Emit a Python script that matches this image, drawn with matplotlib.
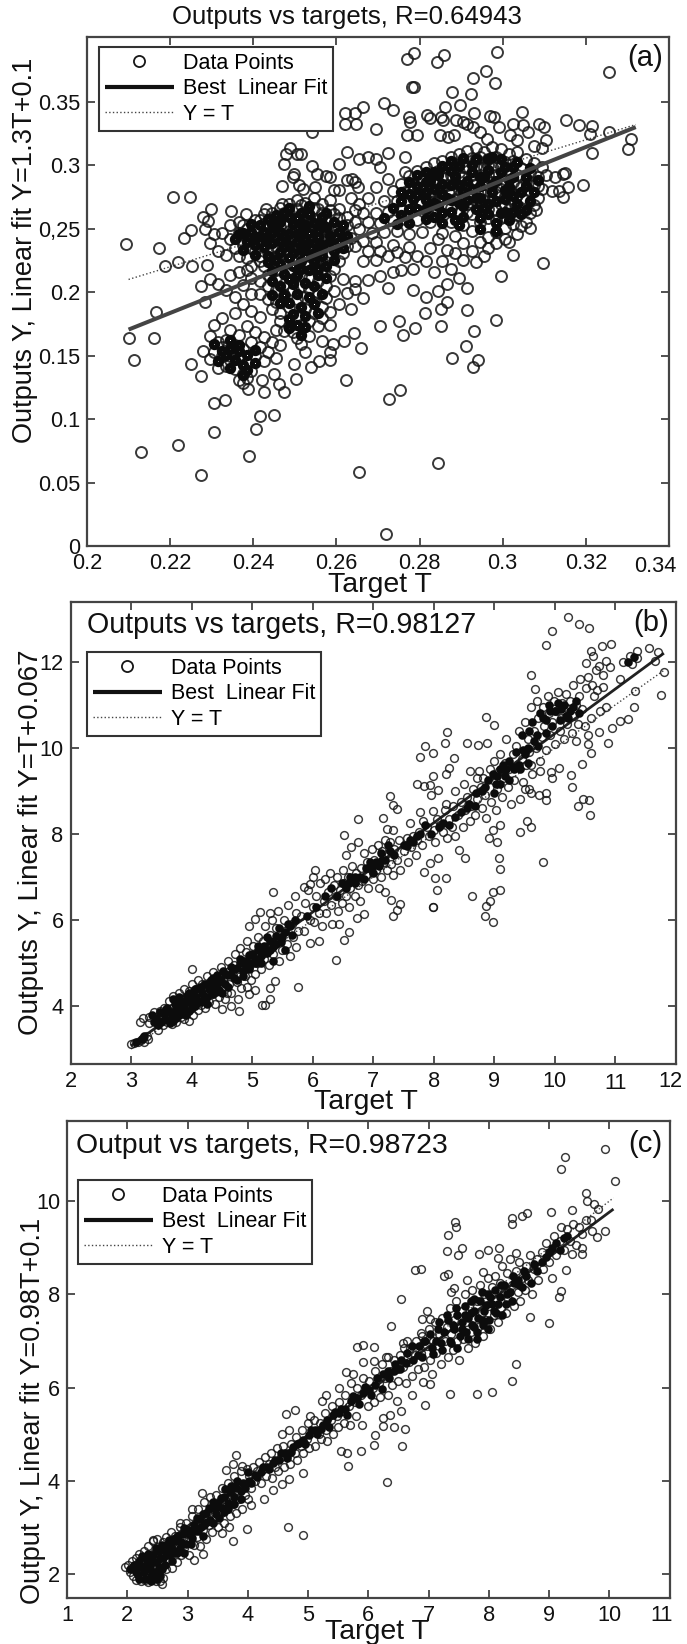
import matplotlib
matplotlib.use("Agg")
import matplotlib.pyplot as plt
from matplotlib.transforms import Affine2D

plt.rcParams['font.family'] = ['Liberation Sans', 'DejaVu Sans']
W, H = 687, 1644

# ---------- panel (a) ----------
a_sparse = [(.2095,.2376),(.2174,.235),(.2187,.2203),(.2219,.2237),(.2252,.2205),(.2206,.275),(.2248,.275),(.2233,.2426),(.2251,.2487),(.2288,.221),
(.2769,.3834),(.2787,.3882),(.2841,.3813),(.2858,.3868),(.2987,.389),(.296,.3745),(.2929,.3684),(.2981,.3645),(.2877,.358),(.2923,.3558),(.2782,.3618),(.2786,.3618),(.3255,.3734),
(.3309,.3208),(.3302,.3129),(.3215,.3097),(.3211,.3242),(.3215,.3308),(.3183,.3313),(.3152,.3355),(.3256,.3258),(.3193,.2847),(.3098,.2232),(.2997,.2124),
(.2665,.3455),(.2714,.3487),(.2735,.3434),(.2694,.3287),(.2644,.3408),(.2621,.3408),(.2648,.3324),(.2621,.3324),(.2542,.3263),(.2775,.3382),(.2778,.3342),(.2769,.3237),(.2794,.3237),
(.2817,.3392),(.2825,.3368),(.2852,.3382),(.2861,.3455),(.2856,.3355),(.2898,.3474),(.2887,.336),(.2905,.3337),(.2931,.3408),(.297,.339),(.298,.338),(.3047,.3416),(.2992,.33),(.3025,.3324),(.305,.3316),(.3087,.3324),(.31,.33),
(.2849,.3237),(.2884,.324),(.2928,.33),(.3018,.3237),(.306,.326),(.3103,.3197),(.2963,.321),(.2915,.3325),(.2945,.3265),(.2868,.3225),(.3035,.3195),(.3075,.3155),(.3095,.3135),
(.2346,.2637),(.2298,.2658),(.2279,.2592),(.2292,.2558),(.2383,.2618),(.2431,.2658),(.2473,.3013),(.2489,.3132),(.2478,.3092),(.2515,.3087),(.2499,.2934),(.2468,.2834),(.251,.2842),(.252,.2816),(.2548,.2829),(.2542,.2995),(.2554,.2934),(.2584,.2908),(.2605,.3013),(.2626,.3105),(.2637,.2895),(.2626,.2882),(.2605,.2803),(.2653,.2829),(.2468,.2697),(.2505,.3085),(.2495,.2905),(.2575,.2915),(.2595,.2805),(.2645,.287),(.2675,.3065),(.2695,.3045),(.2725,.3095),(.2765,.3065),(.2655,.3045),(.2705,.2985),
(.3145,.2934),(.3145,.275),(.3156,.2829),(.3118,.2797),(.3081,.2645),(.3044,.2518),(.3135,.2795),(.315,.2935),(.3105,.292),(.3085,.284),(.3125,.291),
(.21,.1637),(.2112,.1468),(.216,.1637),(.2166,.1842),(.2129,.0737),(.2218,.0797),(.2275,.0563),(.239,.0711),(.2407,.0924),(.2306,.0897),(.2306,.1126),(.2333,.115),(.2415,.1021),(.2449,.1032),(.2251,.1434),(.2275,.1342),(.228,.1539),
(.2654,.0584),(.2844,.0653),(.272,.0097),(.2726,.1158),(.2752,.1229),(.2624,.1308),(.2706,.1734),(.275,.1771),(.276,.1666),(.279,.1721),(.2814,.1839),(.2852,.1871),(.2852,.1734),(.2915,.186),(.2932,.1695),(.2984,.1782),(.2912,.1579),(.2878,.1482),(.2941,.1468),(.2929,.1408),
(.2658,.1558),(.2642,.1676),(.2618,.1618),(.2502,.1316),(.2475,.1211),(.2425,.1211),(.2462,.1276),(.2388,.1237),(.2422,.1311),(.2451,.1355),(.2584,.1466),(.2539,.1413),(.2499,.1434),(.2557,.1461),(.2592,.1592)]
a_upper = [(.2285,.2495),(.2305,.2455),(.2325,.2465),(.2345,.2415),(.2295,.2385),(.2315,.2325),(.2335,.2295),(.2355,.2345),(.2345,.2525),(.2365,.2555),(.2385,.2495),(.2405,.2565),(.2425,.2615),(.2445,.2625),(.2465,.2665),(.2485,.2695),(.2505,.2725),(.2525,.2705),(.2545,.2745),(.2565,.2695),(.2585,.2725),(.2605,.2655),(.2625,.2595),(.2645,.2555),
(.2365,.2465),(.2385,.2425),(.2405,.2485),(.2425,.2535),(.2445,.2555),(.2465,.2585),(.2485,.2625),(.2505,.2655),(.2525,.2635),(.2545,.2665),(.2565,.2625),(.2585,.2645),(.2605,.2585),(.2625,.2525),(.2375,.2375),(.2395,.2345),(.2415,.2415),(.2435,.2465),(.2455,.2495),(.2475,.2525),(.2495,.2575),(.2515,.2585),(.2535,.2595),(.2555,.2565),(.2575,.2575),(.2595,.2525),(.2615,.2475),(.2635,.2425),
(.2365,.2285),(.2385,.2265),(.2405,.2325),(.2425,.2385),(.2445,.2415),(.2465,.2445),(.2485,.2485),(.2505,.2505),(.2525,.2525),(.2545,.2505),(.2565,.2495),(.2585,.2465),(.2605,.2425),(.2625,.2365),(.2395,.2205),(.2415,.2245),(.2435,.2315),(.2455,.2355),(.2475,.2385),(.2495,.2425),(.2515,.2445),(.2535,.2445),(.2555,.2415),(.2575,.2405),(.2595,.2365),(.2615,.2305),
(.2425,.2205),(.2445,.2255),(.2465,.2295),(.2485,.2335),(.2505,.2365),(.2525,.2375),(.2545,.2345),(.2565,.2335),(.2585,.2295),(.2605,.2245),(.2455,.2175),(.2475,.2225),(.2495,.2265),(.2515,.2295),(.2535,.2285),(.2555,.2265),(.2575,.2235),(.2595,.2185),(.2435,.2135),(.2465,.2105),(.2485,.2155),(.2505,.2205),(.2525,.2225),(.2545,.2195),(.2565,.2175),(.2585,.2125),
(.2415,.2565),(.2435,.2515),(.2455,.2445),(.2475,.2625),(.2495,.2495),(.2515,.2685),(.2535,.2525),(.2555,.2655),(.2575,.2485),(.2595,.2615),(.2475,.2325),(.2495,.2345),(.2515,.2375),(.2535,.2365),(.2455,.2275),(.2565,.2415),(.2445,.2355),(.2415,.2285),(.2395,.2445),(.2375,.2525),(.2435,.2405),(.2505,.2435),(.2545,.2425),(.2525,.2475),(.2485,.2415),(.2465,.2515)]
a_lower = [(.2395,.2115),(.2415,.2085),(.2435,.2045),(.2455,.2015),(.2475,.2065),(.2495,.2105),(.2515,.2135),(.2535,.2115),(.2555,.2085),(.2575,.2045),(.2595,.2005),(.2415,.1985),(.2435,.1945),(.2455,.1925),(.2475,.1975),(.2495,.2015),(.2515,.2045),(.2535,.2025),(.2555,.1995),(.2575,.1955),(.2445,.1865),(.2465,.1835),(.2485,.1885),(.2505,.1945),(.2525,.1965),(.2545,.1925),(.2565,.1885),(.2585,.1845),(.2465,.1775),(.2485,.1735),(.2505,.1805),(.2525,.1865),(.2545,.1835),(.2565,.1795),(.2495,.1685),(.2515,.1745),(.2475,.1695),(.2535,.1775),(.2505,.1635),(.2555,.1735),(.2585,.1745),(.2605,.1905),(.2625,.1995),(.2645,.2085),(.2635,.1865),(.2615,.2105),
(.2295,.1655),(.2315,.1605),(.2335,.1625),(.2355,.1575),(.2375,.1555),(.2395,.1605),(.2415,.1565),(.2435,.1525),(.2455,.1485),(.2305,.1525),(.2325,.1495),(.2345,.1465),(.2365,.1505),(.2385,.1445),(.2405,.1495),(.2425,.1455),(.2335,.1415),(.2355,.1395),(.2375,.1355),(.2385,.1325),(.2365,.1305),(.2375,.1285),(.2395,.1375),(.2315,.1405),(.2295,.1475),(.2325,.1565),(.2345,.1705),(.2365,.1665),(.2385,.1735),(.2405,.1685),(.2425,.1645),(.2445,.1605),(.2465,.1585),(.2415,.1805),(.2395,.1855),(.2375,.1905),(.2355,.1965),(.2335,.2015),(.2315,.2065),(.2295,.2105),(.2275,.2045),(.2345,.2135),(.2375,.2055),(.2395,.1985),(.2325,.1795),(.2305,.1745),(.2285,.1925),(.2355,.1835),(.2385,.2175),(.2365,.2155),(.2455,.1705),(.2515,.1595),(.2535,.1655),(.2565,.1615),(.2585,.1525),(.2525,.1525)]
a_right = [(.2695,.2625),(.2715,.2715),(.2735,.2795),(.2755,.2855),(.2775,.2915),(.2795,.2955),(.2815,.2985),(.2835,.3015),(.2855,.3035),(.2875,.3065),(.2895,.3085),(.2915,.3115),(.2935,.3135),(.2955,.3105),(.2975,.3145),(.2995,.3125),(.3015,.3085),(.3035,.3105),(.3055,.3045),(.3075,.3015),(.3095,.2985),
(.2705,.2545),(.2725,.2635),(.2745,.2715),(.2765,.2785),(.2785,.2845),(.2805,.2895),(.2825,.2925),(.2845,.2955),(.2865,.2975),(.2885,.3005),(.2905,.3035),(.2925,.3055),(.2945,.3065),(.2965,.3045),(.2985,.3065),(.3005,.3025),(.3025,.3035),(.3045,.2975),(.3065,.2945),(.3085,.2905),
(.2715,.2475),(.2735,.2565),(.2755,.2645),(.2775,.2715),(.2795,.2785),(.2815,.2825),(.2835,.2865),(.2855,.2905),(.2875,.2925),(.2895,.2945),(.2915,.2975),(.2935,.2995),(.2955,.2985),(.2975,.2985),(.2995,.2995),(.3015,.2955),(.3035,.2925),(.3055,.2875),(.3075,.2845),(.3095,.2815),
(.2745,.2485),(.2765,.2575),(.2785,.2655),(.2805,.2705),(.2825,.2775),(.2845,.2805),(.2865,.2845),(.2885,.2865),(.2905,.2905),(.2925,.2925),(.2945,.2925),(.2965,.2925),(.2985,.2925),(.3005,.2895),(.3025,.2865),(.3045,.2825),(.3065,.2795),(.3085,.2745),
(.2775,.2455),(.2795,.2565),(.2815,.2645),(.2835,.2715),(.2855,.2755),(.2875,.2795),(.2895,.2805),(.2915,.2845),(.2935,.2855),(.2955,.2855),(.2975,.2865),(.2995,.2845),(.3015,.2815),(.3035,.2765),(.3055,.2725),(.3075,.2685),
(.2805,.2475),(.2825,.2555),(.2845,.2635),(.2865,.2695),(.2885,.2735),(.2905,.2755),(.2925,.2785),(.2945,.2785),(.2965,.2795),(.2985,.2785),(.3005,.2755),(.3025,.2715),(.3045,.2665),(.3065,.2625),
(.2855,.2465),(.2875,.2555),(.2895,.2625),(.2915,.2695),(.2935,.2715),(.2955,.2725),(.2975,.2725),(.2995,.2695),(.3015,.2655),(.3035,.2605),(.3055,.2555),(.2885,.2445),(.2905,.2525),(.2925,.2615),(.2945,.2645),(.2965,.2655),(.2985,.2645),(.3005,.2595),(.3025,.2535),(.2925,.2485),(.2945,.2555),(.2965,.2585),(.2985,.2565),(.3005,.2505),(.2965,.2435),(.2985,.2475),(.3005,.2415),
(.2865,.2905),(.2905,.2835),(.2855,.2825),(.2945,.2975),(.2895,.2765),(.2955,.2765),(.3025,.2775),(.2835,.2785),(.2935,.3045),(.2985,.2825),(.2875,.2665),(.2915,.2635),(.2845,.2725),(.2975,.2925),(.2885,.2965),(.2925,.2885),(.2825,.2845),(.3005,.2685),(.2965,.3005),(.2905,.2985)]
a_between = [(.2635,.2745),(.2655,.2695),(.2665,.2625),(.2645,.2645),(.2675,.2555),(.2655,.2495),(.2685,.2465),(.2665,.2405),(.2695,.2395),(.2645,.2365),(.2675,.2325),(.2705,.2325),(.2735,.2375),(.2725,.2285),(.2695,.2255),(.2665,.2245),(.2745,.2315),(.2775,.2355),(.2765,.2275),(.2795,.2285),(.2825,.2345),(.2815,.2245),(.2785,.2185),(.2755,.2175),(.2845,.2415),(.2865,.2335),(.2855,.2245),(.2885,.2305),(.2905,.2385),(.2835,.2155),(.2875,.2185),(.2905,.2255),(.2925,.2325),(.2945,.2395),(.2965,.2345),(.2985,.2385),(.2935,.2235),(.2955,.2285),(.2895,.2115),(.2865,.2065),(.2915,.2035),(.2845,.2005),(.2735,.2155),(.2705,.2125),(.2675,.2095),(.2645,.2025),(.2725,.2035),(.2785,.2015),(.2815,.1965),(.2865,.1925),(.2665,.1955),(.3015,.2395),(.3035,.2455),(.3065,.2505),(.3025,.2295),(.2765,.2945),(.2725,.2895),(.2695,.2825),(.2675,.2745)]
a_t, a_y = zip(*(a_sparse + a_upper + a_lower + a_right + a_between))
a_core = [(.2385,.2395),(.2405,.2375),(.2425,.2355),(.2445,.2385),(.2465,.2405),(.2485,.2375),(.2505,.2395),(.2525,.2415),(.2545,.2385),(.2565,.2375),(.2585,.2405),
(.2365,.2455),(.2395,.2475),(.2415,.2445),(.2445,.2465),(.2465,.2475),(.2485,.2455),(.2515,.2475),(.2535,.2465),(.2555,.2485),(.2585,.2445),(.2605,.2475),
(.2415,.2525),(.2445,.2535),(.2465,.2555),(.2495,.2535),(.2515,.2545),(.2545,.2545),(.2565,.2535),(.2595,.2555),(.2455,.2605),(.2485,.2595),(.2515,.2625),(.2535,.2615),(.2565,.2595),(.2485,.2665),(.2535,.2675),
(.2405,.2295),(.2435,.2285),(.2465,.2315),(.2495,.2305),(.2515,.2335),(.2545,.2305),(.2565,.2285),(.2595,.2325),(.2435,.2235),(.2465,.2225),(.2495,.2205),(.2515,.2245),(.2545,.2245),(.2575,.2205),(.2445,.2165),(.2475,.2145),(.2505,.2135),(.2535,.2175),(.2555,.2135),(.2465,.2045),(.2495,.2065),(.2525,.2075),(.2545,.2045),(.2475,.1975),(.2505,.1985),(.2535,.1965),(.2485,.1915),(.2515,.1885),(.2545,.1905),(.2495,.1825),(.2525,.1815),(.2505,.1745),(.2485,.1785),
(.2345,.1555),(.2365,.1535),(.2385,.1505),(.2355,.1465),(.2375,.1425),(.2335,.1505),(.2375,.1345),(.2385,.1385),
(.2775,.2775),(.2795,.2835),(.2815,.2725),(.2835,.2815),(.2825,.2885),(.2845,.2925),(.2855,.2775),(.2875,.2845),(.2885,.2915),(.2895,.2705),(.2905,.2795),(.2915,.2875),(.2925,.2945),(.2935,.2745),(.2945,.2835),(.2955,.2905),(.2965,.2965),(.2965,.2695),(.2975,.2785),(.2985,.2875),(.2995,.2945),(.3005,.2635),(.3005,.2735),(.3015,.2825),(.3025,.2905),(.3035,.2695),(.3045,.2785),(.2845,.2675),(.2875,.2635),(.2905,.2675),(.2935,.2655),(.2965,.2615),(.2995,.2625),(.3025,.2635),(.2865,.2745),(.2815,.2785),(.2785,.2735),(.2855,.2855),(.2895,.2995),(.2935,.3045),(.2965,.3045),(.2995,.3045),(.3025,.2985),(.3055,.2905),(.2905,.2595),(.2945,.2585),(.2985,.2545),(.2755,.2715),(.2795,.2655),(.2835,.2595)]
a_core2 = [(.2355,.2415),(.2375,.2465),(.2395,.2535),(.2375,.2335),(.2405,.2435),(.2425,.2475),(.2435,.2575),(.2455,.2535),(.2475,.2445),(.2475,.2625),(.2505,.2455),(.2505,.2585),(.2525,.2525),(.2555,.2435),(.2575,.2515),(.2575,.2625),(.2605,.2395),(.2615,.2525),(.2625,.2445),(.2615,.2345),(.2595,.2255),(.2455,.2255),(.2485,.2265),(.2525,.2285),(.2555,.2345),(.2425,.2425),(.2475,.2355),(.2525,.2355),(.2555,.2185),(.2575,.2115),(.2515,.2185),(.2485,.2105),(.2445,.2085),(.2465,.1915),(.2565,.1985),(.2555,.1835),(.2445,.1975),(.2525,.1725),(.2485,.1715),(.2515,.1665),
(.2305,.1595),(.2325,.1535),(.2345,.1625),(.2365,.1585),(.2405,.1545),(.2315,.1455),(.2345,.1405),(.2405,.1445),
(.2715,.2585),(.2735,.2665),(.2755,.2785),(.2755,.2605),(.2775,.2655),(.2775,.2865),(.2795,.2765),(.2795,.2925),(.2815,.2655),(.2815,.2865),(.2835,.2945),(.2835,.2705),(.2855,.2625),(.2855,.2995),(.2875,.2725),(.2875,.2955),(.2885,.2565),(.2895,.2845),(.2905,.3055),(.2915,.2725),(.2925,.2815),(.2925,.3005),(.2945,.2745),(.2945,.2905),(.2955,.2665),(.2975,.2845),(.2975,.3065),(.2985,.2715),(.3005,.2805),(.3005,.2985),(.3015,.2885),(.3025,.2755),(.3035,.3025),(.3045,.2615),(.3055,.2835),(.3065,.2715),(.3065,.2975),(.3075,.2785),(.3085,.2885),(.3055,.2645),(.3015,.2565),(.2985,.2485),(.2945,.2495),(.2895,.2525),(.2855,.2545),(.2815,.2575),(.2775,.2545),(.2745,.2535),(.2875,.3035),(.2815,.2945)]

# ---------- panel (b) ----------
b_sparse = [(10.22,13.03),(10.39,12.89),(9.96,12.71),(9.85,12.39),(10.57,12.78),(10.92,12.41),(10.78,12.37),(10.6,12.26),(10.63,12.14),(10.51,11.98),(10.73,11.9),(10.68,11.82),(10.84,12.02),(10.91,11.88),(10.8,11.69),(9.6,11.7),(9.67,11.37),(11.08,11.61),(11.8,11.77),(11.75,11.22),(11.55,12.33),(11.71,12.22),(11.36,12.26),(11.13,12.0),(11.24,12.13),(11.35,12.08),(11.27,11.95),(11.66,12.02),(11.33,11.32),(11.31,10.94),(11.21,10.67),(11.08,10.63),(10.95,10.47),(10.87,10.12),(10.73,10.37),(10.55,10.29),(10.45,9.62),(10.6,9.88),(10.29,9.09),(10.38,8.65),(10.47,8.8),(10.57,8.78),(10.58,8.45),(10.26,9.36),(10.07,9.52),(9.93,9.44),(9.96,9.31),
(8.86,10.72),(9.0,10.54),(8.22,10.37),(8.18,10.12),(7.86,10.04),(7.98,9.87),(7.77,9.79),(8.34,9.77),(8.55,10.12),(8.73,10.06),(8.25,9.53),(7.98,9.35),(8.2,9.4),(7.72,9.15),(7.93,9.13),(7.83,9.11),(8.07,9.02),(7.95,8.91),(7.27,8.88),(7.32,8.67),(7.4,8.58),(7.16,8.38),(6.74,8.35),(7.77,8.51),(7.98,8.53),(7.22,8.12),(7.33,8.08),(6.52,7.97),(6.74,7.81),(6.63,7.7),(6.55,7.5),
(9.8,7.35),(9.42,8.05),(9.54,8.29),(9.6,8.16),(9.09,8.2),(8.98,8.08),(8.91,7.91),(9.05,7.81),(9.07,7.43),(9.1,7.19),(8.86,8.36),(8.42,7.62),(8.51,7.44),(8.07,7.44),(7.93,7.33),(8.02,6.98),(8.2,6.97),(8.06,6.69),(7.83,7.12),(8.63,6.55),(9.1,6.7),(8.98,6.65),(8.93,6.44),(8.86,6.33),(8.84,6.09),(8.98,5.95),(7.98,6.29),(7.98,6.31),(7.44,6.38),(7.29,6.46),(7.4,6.24),(7.33,6.09),(7.09,6.73),(7.2,6.65),(6.84,6.13),(6.73,6.05),(6.6,5.72),(6.52,5.53),(6.44,5.91),(6.39,5.06),(6.11,5.51),(5.96,5.46),(5.72,5.37),(5.75,4.43),(5.38,4.58),(5.29,4.42),(5.05,4.38),(4.95,4.27),(5.29,4.16),(5.16,4.03),(5.22,4.03),(4.91,4.44),(4.79,3.88),(4.65,3.99),(4.51,3.94),(4.76,4.15),(4.58,4.29),
(5.35,6.65),(6.04,7.17),(6.01,7.0),(5.96,6.84),(5.85,6.77),(5.13,6.19),(5.29,6.16),(5.04,6.03),(4.95,5.85),(4.0,4.85),(9.85,8.79),(9.74,8.9),(9.6,8.95),(9.85,8.95),(9.5,9.05),(9.57,9.05),(9.75,9.45),(9.6,9.6),(8.35,9.0),(8.2,8.7),(8.5,9.15),(8.6,9.45),(8.72,9.3)]
b_dense1 = [(3.0,3.12),(3.05,3.14),(3.12,3.16),(3.17,3.2),(3.2,3.26),(3.22,3.17),(3.26,3.3),(3.28,3.24),(3.15,3.63),(3.2,3.72),(3.3,3.75),(3.3,3.6),(3.38,3.85),(3.42,3.62),(3.45,3.45),(3.42,3.75),(3.48,3.88),(3.5,3.7),(3.52,3.55),(3.55,3.95),(3.58,3.78),(3.6,3.62),(3.62,3.88),(3.62,4.12),(3.65,3.7),(3.68,3.58),(3.68,3.95),(3.7,4.22),(3.72,3.8),(3.75,3.62),(3.75,4.08),(3.78,3.9),(3.8,4.3),(3.82,3.75),(3.82,4.15),(3.85,3.98),(3.88,3.7),(3.88,4.4),(3.9,3.85),(3.9,4.2),(3.92,4.05),(3.95,3.65),(3.95,4.35),(3.98,3.92),(4.0,4.5),(4.0,4.18),(4.02,3.78),(4.05,4.05),(4.08,4.4),(4.1,3.9),(4.1,4.6),(4.12,4.25),(4.15,4.02),(4.18,4.5),(4.2,4.15),(4.22,3.95),(4.25,4.38),(4.25,4.7),(4.28,4.1),(4.3,4.55),(4.33,4.28),(4.35,4.8),(4.38,4.05),(4.4,4.45),(4.42,4.65),(4.45,4.2),(4.48,4.9),(4.5,4.4),(4.52,4.6),(4.55,4.15),(4.58,4.8),(4.6,5.05),(4.62,4.5),(4.65,4.3),(4.68,4.72),(4.7,4.95),(4.72,5.2),(4.75,4.55),(4.78,4.85),(4.8,5.35),(4.82,4.42),(4.85,5.05),(4.88,4.7),(4.9,5.25),(4.92,5.5),(4.95,4.9),(4.98,4.6),(5.0,5.15),(5.02,5.4),(5.05,4.75),(5.08,5.0),(5.1,5.6),(5.12,5.25),(5.15,4.85),(5.18,5.5),(5.2,5.1),(5.22,5.85),(5.25,5.3),(5.28,4.95),(5.3,5.65),(5.32,6.0),(5.35,5.2),(5.38,5.45),(5.4,5.8),(5.42,6.2),(5.45,5.05),(5.48,5.6),(5.5,5.3),(5.52,6.0),(5.55,5.75),(5.58,5.45),(5.6,6.35),(5.62,5.15),(5.65,5.9),(5.68,5.6),(5.7,6.55),(5.72,6.15),(5.75,5.75)]
b_mid = [(5.8,6.1),(5.85,5.75),(5.88,6.4),(5.92,6.7),(5.95,6.0),(6.0,6.3),(6.02,5.95),(6.05,6.55),(6.1,6.15),(6.12,6.85),(6.15,5.85),(6.18,6.45),(6.2,6.95),(6.22,6.15),(6.25,6.65),(6.28,7.1),(6.3,6.35),(6.32,5.9),(6.35,6.8),(6.38,6.55),(6.4,7.0),(6.42,6.2),(6.45,6.7),(6.48,6.4),(6.5,7.15),(6.52,6.85),(6.55,6.55),(6.58,7.0),(6.6,6.3),(6.62,6.75),(6.65,7.25),(6.68,6.95),(6.7,6.55),(6.72,7.1),(6.75,6.8),(6.78,6.45),(6.8,7.2),(6.82,6.9),(6.85,7.55),(6.88,7.05),(6.9,7.35),(6.92,6.75),(6.95,7.2),(6.98,7.65),(7.0,6.95),(7.02,7.4),(7.05,7.15),(7.08,7.75),(7.1,7.3),(7.12,7.0),(7.15,7.6),(7.18,7.35),(7.2,7.85),(7.22,7.15),(7.25,7.55),(7.28,7.8),(7.3,7.3),(7.32,7.05),(7.35,7.65),(7.4,7.4),(7.42,7.85),(7.45,7.15),(7.5,7.6),(7.55,7.9),(7.58,7.35),(7.6,8.25),(7.62,7.7),(7.65,7.95),(7.7,7.5),(7.72,7.85),(7.75,8.05),(7.8,7.75),(7.82,8.3),(7.88,8.15),(7.92,7.95),(8.0,8.1),(8.02,7.8),(8.05,8.35),(8.1,8.2),(8.15,8.05),(8.18,8.55),(8.22,7.9),(8.25,8.35),(8.3,8.15),(8.32,8.65),(8.35,7.95),(8.4,8.45),(8.45,8.75),(8.48,8.15),(8.52,8.55),(8.55,8.85),(8.6,8.3),(8.62,8.65),(8.65,9.05),(8.68,8.45),(8.72,8.8),(8.75,9.45),(8.78,9.1),(8.8,8.6),(8.82,9.3),(8.85,8.9),(8.88,10.12),(8.92,9.5),(8.95,8.75),(8.98,9.25),(9.0,9.7),(9.02,8.55),(9.05,9.05),(9.08,9.45),(9.1,9.85),(9.12,8.85),(9.15,9.3),(9.18,9.65),(9.2,10.2),(9.22,9.1),(9.25,9.5),(9.28,8.7),(9.3,9.85),(9.32,9.25),(9.35,10.05),(9.38,9.55),(9.4,10.4),(9.42,8.8),(9.45,9.75),(9.48,9.2),(9.5,10.6),(9.52,9.6),(9.55,10.2),(9.58,9.9),(9.6,10.95),(9.62,9.4),(9.65,10.4),(9.68,10.0),(9.7,11.1),(9.72,10.7),(9.75,9.7),(9.78,10.25),(9.8,10.95),(9.82,10.5),(9.85,9.95),(9.88,11.2),(9.9,10.8),(9.92,10.3),(9.95,10.6),(9.98,11.1),(10.0,10.1),(10.02,10.85),(10.05,11.3),(10.08,10.4),(10.1,10.7),(10.12,11.05),(10.15,10.2),(10.18,11.25),(10.2,10.55),(10.22,10.9),(10.25,11.1),(10.28,10.35),(10.3,11.45),(10.32,10.75),(10.35,11.0),(10.38,10.55),(10.4,11.2),(10.42,11.6),(10.45,10.9),(10.5,10.5),(10.52,11.4),(10.55,11.65),(10.6,10.7),(10.62,11.45),(10.65,11.2),(10.7,11.35),(10.75,10.85),(10.8,11.42),(10.85,10.95),(10.55,10.1),(10.35,10.15)]
b_t, b_y = zip(*(b_sparse + b_dense1 + b_mid))
b_core = [(3.42,3.72),(3.5,3.62),(3.55,3.82),(3.6,3.95),(3.62,3.68),(3.68,3.82),(3.72,4.05),(3.75,3.72),(3.78,3.92),(3.82,4.12),(3.85,3.82),(3.88,4.02),(3.92,4.22),(3.95,3.88),(3.98,4.08),(4.02,4.32),(4.05,4.0),(4.08,4.2),(4.12,4.42),(4.15,4.1),(4.18,4.3),(4.22,4.52),(4.25,4.2),(4.28,4.4),(4.32,4.6),(4.35,4.28),(4.38,4.48),(4.42,4.72),(4.45,4.38),(4.48,4.6),(4.52,4.82),(4.55,4.5),(4.6,4.72),(4.65,4.9),(4.7,4.65),(4.75,4.88),(4.8,5.0),(4.85,4.82),(4.9,5.05),(4.95,5.18),(5.0,5.0),(5.05,5.1),(5.1,5.3),(5.15,5.15),(5.2,5.4),(5.25,5.22),(5.3,5.5),(5.35,5.38),(5.4,5.62),(5.48,5.48),(5.55,5.72),(5.62,5.85),
(3.08,3.15),(3.18,3.22),(3.22,3.3),
(6.55,6.75),(6.62,7.0),(6.7,6.85),(6.78,7.0),(6.88,7.2),(6.98,7.2),(7.05,7.35),(7.12,7.55),(7.2,7.4),(7.28,7.6),(7.55,7.72),(7.65,7.8),(7.78,8.0),(7.85,8.2),(8.08,8.15),(8.25,8.2),(8.45,8.5),(8.58,8.7),(8.7,8.95),(8.85,9.1),(8.98,9.4),(9.02,9.15),(9.1,9.5),(9.18,9.35),(9.25,9.7),(9.32,9.5),(9.4,9.6),(9.45,10.3),(9.5,9.85),(9.58,10.4),(9.65,10.15),(9.75,10.8),(9.85,10.65),(9.9,11.0),(10.0,10.85),(10.08,10.65),(10.15,11.0),(10.22,10.7),(10.3,10.95),(11.2,12.0),(11.3,12.1)]
b_core2 = [(3.38,3.62),(3.35,3.78),(3.45,3.55),(3.48,3.85),(3.55,3.68),(3.58,3.92),(3.65,3.6),(3.65,3.85),(3.7,3.65),(3.7,4.15),(3.75,3.95),(3.8,3.78),(3.8,4.2),(3.85,3.95),(3.9,3.78),(3.9,4.12),(3.95,4.3),(4.0,3.95),(4.0,4.15),(4.05,4.4),(4.1,4.08),(4.15,4.45),(4.2,4.22),(4.25,4.05),(4.3,4.45),(4.35,4.65),(4.4,4.32),(4.45,4.55),(4.5,4.3),(4.55,4.75),(4.6,4.45),(4.65,4.75),(4.7,4.85),(4.75,4.6),(4.8,5.1),(4.85,4.7),(4.9,4.92),(4.95,4.85),(5.0,5.2),(5.05,5.0),(5.1,5.4),(5.15,5.0),(5.2,5.22),(5.25,5.6),(5.3,5.3),(5.35,5.05),(5.4,5.45),(5.45,5.8),(5.5,5.6),(5.55,5.3),(5.6,5.9),(5.65,5.65),(5.7,6.0),
(5.9,6.1),(6.05,6.3),(6.2,6.55),(6.3,6.75),(6.4,6.55),(6.48,6.85),(6.6,6.85),(6.7,7.0),(6.85,6.95),(6.95,7.35),(7.0,7.1),(7.1,7.25),(7.15,7.4),(7.25,7.75),(7.35,7.5),(7.5,7.75),(7.6,7.85),(7.72,7.95),(7.95,8.0),(8.15,8.25),(8.35,8.4),(8.55,8.6),(8.68,8.65),(8.8,9.0),(8.9,9.25),(9.0,8.95),(9.05,9.35),(9.1,9.15),(9.15,9.6),(9.2,9.5),(9.25,9.25),(9.3,9.55),(9.35,9.9),(9.42,9.5),(9.48,9.95),(9.55,10.0),(9.55,9.65),(9.62,10.6),(9.7,10.3),(9.72,10.05),(9.8,10.7),(9.85,10.35),(9.92,10.85),(9.95,10.5),(10.05,11.05),(10.1,10.9),(10.18,10.75),(10.25,10.85),(10.35,11.1),(10.4,10.8)]
b_fit_t, b_fit_y = [3, 11.8], [3.07, 12.2]
b_yt_t, b_yt_y = [3, 11.8], [3, 11.8]
b_xticks = list(range(2, 13))
b_yticks = [4, 6, 8, 10, 12]

# ---------- panel (c) ----------
c_sparse = [(9.93,11.12),(9.26,10.95),(9.2,10.7),(10.09,10.43),(9.62,10.18),(9.63,10),(9.75,9.93),(9.82,9.83),(9.04,9.77),(9.38,9.8),(8.64,9.74),(8.55,9.68),(8.38,9.63),(8.38,9.5),(7.44,9.56),(7.46,9.45),(7.33,9.28),(7.55,9),(7.3,8.94),(7.49,8.84),(7.84,8.86),(7.98,8.95),(8.17,8.99),(8.15,8.79),(8.46,8.88),(7.32,8.44),(7.25,8.39),(6.78,8.53),(6.87,8.55),(7.9,8.47),(7.64,8.3),(7.42,8.13),(7.38,8.05),(6.54,7.89),(6.37,7.32),(6.98,7.65),(6.9,7.47),(7.02,7.48),(6.87,7.17),(6.65,7.01),(6.58,6.95),(5.92,6.92),(5.81,6.86),(6.1,6.87),(5.92,6.55),(6.1,6.56),(6.32,6.66),(5.63,6.33),(5.74,6.29),(5.52,6),(5.3,5.84),(5.23,5.71),(4.79,5.51),(4.64,5.43),(5.04,5.38),(4.57,5),(4.68,5.08),(3.81,4.55),(3.75,4.36),(3.91,4.31),(3.64,4.24),(3.24,3.74),(3.07,3.39),(2.87,3.1),(2.43,2.73),
(6.31,3.97),(6.56,4.74),(6.1,4.77),(6.12,4.99),(5.88,4.64),(5.66,4.31),(5.55,4.63),(5.64,4.59),(4.91,4.16),(4.66,3),(4.91,2.83),(3.98,2.97),(3.76,2.7),(3.57,2.88),(3.69,3),(3.25,2.42),(3.11,2.29),(4.42,3.8),(4.57,3.93),(4.68,4.03),(4.27,3.61),(4.06,3.47),(6.61,5.12),(6.42,5.16),(6.25,5.17),(6.36,5.41),(6.54,5.49),(6.47,5.71),(6.25,5.34),(6.95,5.62),(6.72,5.85),(7.02,6.07),(6.91,6.11),(7.35,5.87),(7.81,5.87),(8.06,5.9),(8.38,6.15),(8.46,6.51),(9.0,7.39),(8.68,7.52),(9.16,7.94),(9.2,8.08),(9.72,9.35),(9.93,9.35),(9.8,9.24),(9.55,8.86),(9.54,9),(9.39,8.86),(9.28,8.53)]
c_dense1 = [(1.97,2.14),(2.02,2.2),(2.05,2.05),(2.08,2.28),(2.1,1.95),(2.12,2.15),(2.15,2.35),(2.15,1.88),(2.18,2.05),(2.2,2.42),(2.22,1.85),(2.25,2.2),(2.25,1.98),(2.28,2.5),(2.3,1.88),(2.3,2.1),(2.32,2.35),(2.35,1.82),(2.35,2.6),(2.38,2.0),(2.4,2.25),(2.42,1.9),(2.42,2.7),(2.45,2.1),(2.45,2.45),(2.48,1.85),(2.5,2.3),(2.5,2.75),(2.52,2.0),(2.55,1.85),(2.55,2.55),(2.57,1.78),(2.58,2.2),(2.6,1.92),(2.6,2.68),(2.62,2.4),(2.65,2.1),(2.65,2.8),(2.68,2.55),(2.7,2.3),(2.72,2.9),(2.75,2.12),(2.75,2.65),(2.78,2.45),(2.8,2.82),(2.82,2.25),(2.85,2.6),(2.88,3.0),(2.9,2.4),(2.92,2.78),(2.95,2.55),(2.98,3.1),(3.0,2.7),(3.02,2.4),(3.05,2.9),(3.08,3.25),(3.1,2.62),(3.12,3.05),(3.15,2.8),(3.18,3.4),(3.2,2.6),(3.22,3.15),(3.25,2.95),(3.28,3.55),(3.3,2.75),(3.32,3.3),(3.35,3.05),(3.38,3.65),(3.4,2.9),(3.42,3.4),(3.45,3.2),(3.48,3.7),(3.5,3.0),(3.52,3.5),(3.55,3.3),(3.58,3.85),(3.6,3.1),(3.62,3.6),(3.65,3.4),(3.68,3.95),(3.7,3.25),(3.72,3.7),(3.75,3.5),(3.78,4.1),(3.8,3.3),(3.82,3.8),(3.85,3.6),(3.88,4.2),(3.9,3.4),(3.92,3.9),(3.95,3.7),(3.98,4.25),(4.0,3.6)]
c_mid = [(4.02,4.1),(4.05,3.85),(4.08,4.3),(4.12,4.0),(4.15,4.2),(4.18,4.4),(4.22,3.95),(4.25,4.25),(4.28,4.5),(4.3,4.1),(4.35,4.35),(4.38,4.6),(4.4,4.05),(4.45,4.3),(4.48,4.7),(4.5,4.2),(4.55,4.5),(4.58,4.75),(4.6,4.3),(4.65,4.55),(4.7,4.35),(4.72,4.8),(4.78,4.6),(4.8,4.95),(4.82,4.45),(4.88,4.75),(4.9,5.1),(4.92,4.6),(4.98,4.9),(5.0,5.25),(5.02,4.7),(5.08,5.05),(5.1,5.3),(5.12,4.75),(5.18,5.0),(5.2,5.25),(5.22,4.9),(5.28,5.45),(5.3,5.1),(5.32,4.85),(5.38,5.3),(5.4,5.6),(5.42,5.0),(5.48,5.4),(5.5,5.15),(5.52,5.7),(5.58,5.5),(5.6,5.25),(5.62,5.85),(5.68,5.6),(5.7,5.2),(5.72,6.1),(5.78,5.7),(5.8,5.4),(5.82,6.0),(5.88,5.85),(5.9,5.2),(5.92,6.2),(5.98,5.95),(6.0,5.6),(6.02,6.15),(6.08,6.0),(6.1,5.7),(6.12,6.35),(6.18,6.1),(6.2,5.8),(6.22,6.5),(6.28,6.2),(6.3,6.65),(6.32,5.85),(6.38,6.35),(6.4,6.05),(6.42,6.6),(6.48,6.4),(6.5,6.15),(6.52,6.7),(6.58,6.45),(6.6,6.85),(6.62,6.1),(6.68,6.55),(6.7,6.85),(6.72,6.25),(6.78,6.7),(6.8,7.0),(6.82,6.4),(6.88,6.75),(6.9,7.1),(6.92,6.45),(6.98,6.9),(7.0,7.25),(7.02,6.6),(7.05,6.3),(7.08,7.0),(7.1,7.4),(7.12,6.75),(7.18,7.15),(7.2,6.5),(7.22,7.5),(7.28,7.0),(7.3,7.3),(7.32,6.65),(7.35,7.7),(7.38,7.15),(7.4,6.8),(7.42,7.45),(7.45,7.85),(7.48,7.0),(7.5,6.6),(7.52,7.3),(7.55,7.65),(7.58,7.05),(7.6,8.0),(7.62,7.4),(7.65,6.85),(7.68,7.75),(7.7,7.2),(7.72,8.1),(7.75,7.5),(7.78,6.95),(7.8,7.85),(7.82,7.3),(7.85,8.2),(7.88,7.6),(7.9,7.1),(7.92,8.0),(7.95,7.45),(7.98,8.35),(8.0,7.75),(8.02,7.25),(8.05,8.15),(8.08,7.55),(8.1,8.4),(8.12,7.9),(8.15,7.4),(8.18,8.25),(8.2,7.7),(8.22,8.6),(8.25,8.05),(8.28,7.6),(8.3,8.45),(8.32,7.9),(8.35,8.75),(8.38,8.2),(8.42,7.75),(8.45,8.5),(8.48,8.05),(8.5,8.7),(8.52,7.85),(8.55,8.35),(8.6,8.1),(8.62,8.6),(8.65,8.3),(8.68,8.85),(8.72,8.0),(8.75,8.55),(8.8,8.75),(8.82,8.3),(8.88,8.9),(8.9,8.55),(8.95,9.1),(9.0,8.7),(9.05,8.35),(9.08,9.25),(9.12,8.85),(9.18,9.15),(9.2,9.45),(9.25,8.95),(9.3,9.4),(9.35,9.15),(9.4,9.5),(9.45,9.05),(9.5,9.45),(9.55,9.3),(9.62,9.6),(9.7,9.6)]
c_t, c_y = zip(*(c_sparse + c_dense1 + c_mid))
c_core = [(2.1,2.15),(2.18,1.98),(2.2,2.28),(2.28,2.05),(2.3,1.9),(2.32,2.3),(2.38,2.15),(2.4,1.95),(2.42,2.4),(2.48,2.05),(2.5,1.9),(2.5,2.25),(2.52,2.5),(2.58,2.1),(2.6,2.35),(2.62,2.6),(2.68,2.4),(2.72,2.6),(2.75,2.28),(2.8,2.5),(2.82,2.7),(2.88,2.55),(2.92,2.85),(2.98,2.65),(3.0,2.95),(3.08,2.78),(3.1,3.05),(3.18,2.92),(3.2,3.18),(3.28,3.05),(3.3,3.3),(3.38,3.15),(3.4,3.42),(3.48,3.28),(3.5,3.52),(3.58,3.42),(3.6,3.65),(3.68,3.52),(3.7,3.75),(3.78,3.65),(3.8,3.85),(3.88,3.78),(3.92,3.95),
(4.02,4.0),(4.12,4.12),(4.22,4.18),(4.32,4.3),(4.42,4.38),(4.52,4.45),(4.62,4.6),(4.72,4.62),(4.82,4.78),(4.92,4.88),(5.02,4.98),(5.12,5.08),(5.22,5.12),(5.32,5.3),(5.42,5.42),(5.52,5.45),(5.62,5.55),(5.72,5.72),(5.82,5.78),(5.92,5.88),(6.02,5.95),(6.12,6.05),(6.25,6.3),(6.35,6.2),(6.45,6.5),(6.55,6.6),(6.65,6.75),(6.75,6.6),(6.85,6.9),(6.95,7.0),(7.05,6.85),(7.15,7.25),(7.2,6.95),
(7.25,7.2),(7.32,7.45),(7.38,6.95),(7.42,7.25),(7.48,7.55),(7.52,7.1),(7.55,7.4),(7.6,7.75),(7.62,7.2),(7.65,7.5),(7.7,7.85),(7.72,7.35),(7.75,7.65),(7.8,7.2),(7.82,7.5),(7.85,7.85),(7.9,7.35),(7.92,7.65),(7.98,8.0),(8.0,7.45),(8.05,7.8),(8.1,8.1),(8.12,7.6),(8.18,7.95),(8.25,8.2),(8.28,7.8),(8.35,8.05),(8.42,8.25),(8.5,8.2),(8.62,8.4),(8.75,8.65),(8.88,8.7),(9.0,8.9),(9.12,9.1),(9.25,9.2)]
c_core2 = [(2.05,2.1),(2.12,2.2),(2.15,2.05),(2.2,1.9),(2.22,2.15),(2.25,2.38),(2.3,2.18),(2.35,2.1),(2.35,2.42),(2.4,1.85),(2.42,2.25),(2.45,2.05),(2.48,2.55),(2.52,2.15),(2.55,1.95),(2.55,2.35),(2.58,2.62),(2.62,2.2),(2.65,2.48),(2.7,2.72),(2.75,2.45),(2.78,2.75),(2.82,2.45),(2.85,2.82),(2.9,2.68),(2.95,2.45),(2.95,2.98),(3.02,2.85),(3.05,2.65),(3.12,2.92),(3.15,3.2),(3.22,3.0),(3.25,2.82),(3.25,3.28),(3.32,3.12),(3.35,3.42),(3.42,3.1),(3.42,3.55),(3.48,3.42),(3.52,3.2),(3.55,3.62),(3.6,3.32),(3.62,3.82),(3.68,3.4),(3.72,3.88),(3.78,3.5),(3.82,4.0),(3.88,3.6),(3.95,3.85),(4.0,4.18),(4.05,3.95),
(4.15,4.08),(4.25,4.3),(4.35,4.25),(4.45,4.45),(4.55,4.6),(4.65,4.48),(4.75,4.72),(4.85,4.82),(4.95,4.78),(5.05,5.08),(5.15,5.0),(5.25,5.2),(5.35,5.15),(5.45,5.48),(5.55,5.55),(5.65,5.42),(5.75,5.82),(5.85,5.65),(5.95,6.02),(6.05,5.85),(6.15,6.2),(6.22,5.98),(6.32,6.35),(6.42,6.35),(6.52,6.4),(6.62,6.52),(6.72,6.9),(6.82,6.7),(6.9,6.65),(6.92,7.0),(7.02,7.15),(7.08,6.72),(7.12,7.0),(7.18,7.4),(7.22,6.8),(7.3,7.55),(7.35,7.0),(7.4,7.35),(7.45,7.7),(7.48,6.85),(7.55,7.25),(7.6,7.55),(7.65,7.05),(7.7,7.6),(7.75,7.9),(7.75,7.3),(7.8,7.05),(7.88,7.45),(7.88,8.05),(7.95,7.78),(7.98,7.25),(8.02,7.95),(8.08,7.65),(8.15,7.8),(8.2,8.2),(8.22,7.55),(8.3,8.0),(8.38,7.85),(8.4,8.4),(8.48,8.3),(8.55,8.15),(8.58,8.5),(8.7,8.25),(8.8,8.5),(8.95,8.8),(9.05,9.0),(9.18,8.95),(9.3,9.25)]
c_fit_t, c_fit_y = [2, 10.07], [2.06, 9.83]
c_yt_t, c_yt_y = [2, 10.07], [2, 10.07]
c_xticks = list(range(1, 12))
c_yticks = [2, 4, 6, 8, 10]

a_fit_t, a_fit_y = [.21, .332], [.1705, .33]
a_yt_t, a_yt_y = [.21, .332], [.21, .332]
a_xticks = [.2, .22, .24, .26, .28, .3, .32, .34]
a_xlabels = ['0.2', '0.22', '0.24', '0.26', '0.28', '0.3', '0.32', '0.34']
a_yticks = [0, .05, .1, .15, .2, .25, .3, .35]
a_ylabels = ['0', '0.05', '0.1', '0.15', '0.2', '0,25', '0.3', '0.35']

fig = plt.figure(figsize=(W/100, H/100), dpi=100, facecolor='white')

def make_axes(l, r, t, b):
    return fig.add_axes([l/W, 1-b/H, (r-l)/W, (b-t)/H])

def ftext(px, py, s, **kw):
    kw.setdefault('ha', 'center')
    kw.setdefault('va', 'center')
    kw.setdefault('color', '#111111')
    fig.text(px/W, 1-py/H, s, **kw)

def panel(box, xlim, ylim, xt, xl, yt, yl, pts, core, fit, iden, ms, mew, core_style, fitc, fitw, fit_z, legend_xy, nudges):
    ax = make_axes(*box)
    ax.plot(pts[0], pts[1], ls='none', marker='o', ms=ms, mfc='none', mec='#161616', mew=mew, alpha=0.85, zorder=3, label='Data Points')
    ax.plot(core[0], core[1], ls='none', marker='o', ms=core_style[0], mfc='none', mec='#0c0c0c', mew=core_style[1], zorder=3)
    ax.plot(fit[0], fit[1], color=fitc, lw=fitw, solid_capstyle='butt', zorder=fit_z, label='Best  Linear Fit')
    ax.plot(iden[0], iden[1], color='#444444', lw=1, ls=':', zorder=2, label='Y = T')
    ax.set_xlim(*xlim); ax.set_ylim(*ylim)
    ax.set_xticks(xt); ax.set_xticklabels(xl)
    ax.set_yticks(yt); ax.set_yticklabels(yl)
    ax.tick_params(direction='in', length=6, width=1.2, top=True, right=True, labelsize=15.7, pad=5, colors='#333333', labelcolor='#111111')
    for s in ax.spines.values():
        s.set_linewidth(1.6); s.set_color('#444444')
    for idx, dx, dy in nudges:
        lab = ax.get_xticklabels()[idx]
        lab.set_transform(lab.get_transform() + Affine2D().translate(dx, dy))
    lx, ly = legend_xy
    handles = [h for h in ax.get_lines() if not h.get_label().startswith('_')]
    leg = ax.legend(handles=handles, loc='upper left', bbox_to_anchor=(lx/W, 1-ly/H), bbox_transform=fig.transFigure, borderaxespad=0,
                    fontsize=15.5, numpoints=1, handlelength=3.2, handletextpad=0.42, labelspacing=0.2, borderpad=0.28,
                    fancybox=False, framealpha=1, edgecolor='#333333')
    leg.set_zorder(10)
    leg.get_frame().set_linewidth(1.5)
    h = leg.get_lines()
    h[0].set_alpha(1); h[0].set_markersize(8); h[0].set_markeredgewidth(1.3)
    h[1].set_color('#111111'); h[1].set_linewidth(3)
    return ax

panel((87, 669, 37, 546), (.2, .34), (0, .401), a_xticks, a_xlabels, a_yticks, a_ylabels,
      (a_t, a_y), tuple(zip(*(a_core + a_core2))), (a_fit_t, a_fit_y), (a_yt_t, a_yt_y), 7.9, 1.4, (4.6, 3.6), '#444444', 2.9, 5, (99, 47), [(7, -14, -3)])
panel((70.5, 676, 602, 1064), (2, 12), (2.65, 13.39), b_xticks, [str(v) for v in b_xticks], b_yticks, [str(v) for v in b_yticks],
      (b_t, b_y), tuple(zip(*(b_core + b_core2))), (b_fit_t, b_fit_y), (b_yt_t, b_yt_y), 5.6, 1.05, (3.0, 3.2), '#222222', 2, 1, (87, 652), [(9, 0, -2.5), (10, -6, 0)])
panel((67, 669.5, 1121, 1598), (1, 11), (1.485, 11.72), c_xticks, [str(v) for v in c_xticks], c_yticks, [str(v) for v in c_yticks],
      (c_t, c_y), tuple(zip(*(c_core + c_core2))), (c_fit_t, c_fit_y), (c_yt_t, c_yt_y), 5.6, 1.05, (3.0, 3.2), '#222222', 2, 1, (78, 1180), [(10, -8, 0)])

ftext(347, 17, 'Outputs vs targets, R=0.64943', fontsize=18.5)
ftext(645, 58, '(a)', fontsize=21)
ftext(380, 585, 'Target T', fontsize=20.5)
ftext(25, 250, 'Outputs Y, Linear fit Y=1.3T+0.1', fontsize=19.5, rotation=90)

ftext(87, 625, 'Outputs vs targets, R=0.98127', fontsize=20.6, ha='left')
ftext(669, 623, '(b)', fontsize=21, ha='right')
ftext(366, 1102, 'Target T', fontsize=20.5)
ftext(31, 842, 'Outputs Y, Linear fit Y=T+0.067', fontsize=20, rotation=90)

ftext(76, 1146, 'Output vs targets, R=0.98723', fontsize=20.4, ha='left')
ftext(662, 1144, '(c)', fontsize=21, ha='right')
ftext(377, 1632, 'Target T', fontsize=20.5)
ftext(33, 1411, 'Output Y, Linear fit Y=0.98T+0.1', fontsize=19.5, rotation=90)

fig.savefig('out.png', dpi=100, facecolor='white')
